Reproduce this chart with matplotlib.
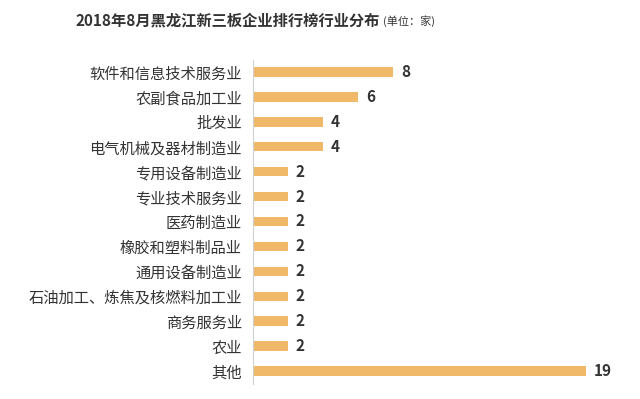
import matplotlib.pyplot as plt

plt.rcParams['font.family'] = ['Noto Sans CJK SC', 'DejaVu Sans']

categories = [
    "软件和信息技术服务业", "农副食品加工业", "批发业", "电气机械及器材制造业",
    "专用设备制造业", "专业技术服务业", "医药制造业", "橡胶和塑料制品业",
    "通用设备制造业", "石油加工、炼焦及核燃料加工业", "商务服务业", "农业", "其他",
]
values = [8, 6, 4, 4, 2, 2, 2, 2, 2, 2, 2, 2, 19]

bar_color = "#F0B96A"
text_color = "#333333"

fig = plt.figure(figsize=(6.4, 3.99), dpi=100)

ax = fig.add_axes([253 / 640, 1 - 383.5 / 399, (640 - 253) / 640, 324 / 399])

pos = list(range(len(categories)))[::-1]
ax.barh(pos, values, height=0.38, color=bar_color, zorder=2)
for p, v in zip(pos, values):
    ax.text(v + 0.45, p, str(v), va="center", ha="left", fontsize=11,
            fontweight="bold", color=text_color)

ax.set_xlim(0, (640 - 253) / 17.5)
ax.set_ylim(-0.5, len(categories) - 0.5)
ax.set_yticks(pos)
ax.set_yticklabels(categories, fontsize=11, color=text_color)
ax.tick_params(axis="y", length=0, pad=8)
ax.set_xticks([])
for side in ["top", "right", "bottom"]:
    ax.spines[side].set_visible(False)
ax.spines["left"].set_color("#d0d0d0")

fig.text(75 / 640, 1 - 20 / 399, "2018年8月黑龙江新三板企业排行榜行业分布",
         fontsize=11, fontweight="bold", color=text_color, va="center")
fig.text(383 / 640, 1 - 21 / 399, "(单位：家)", fontsize=8, color=text_color,
         va="center")

fig.savefig("out.png", dpi=100)
